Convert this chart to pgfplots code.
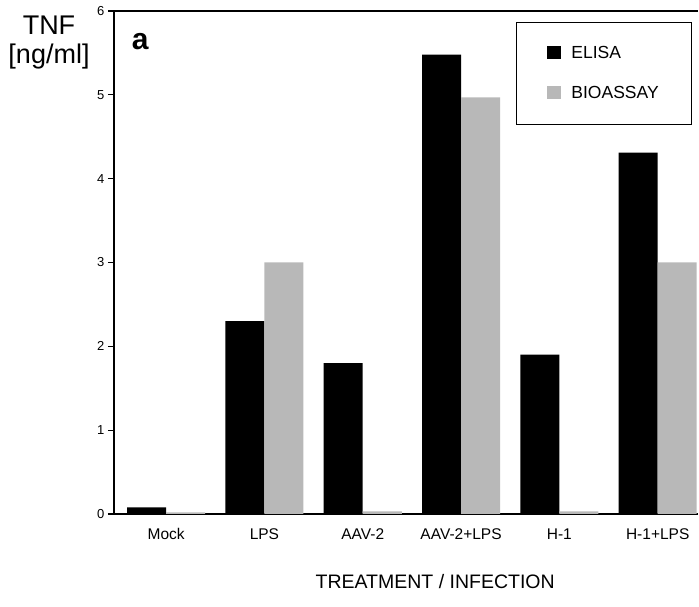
\documentclass[border=0pt]{standalone}
\usepackage{fontspec}
\setmainfont{Liberation Sans}
\usepackage{pgfplots}
\pgfplotsset{compat=1.18}
\definecolor{dotgray}{gray}{0.72}
\begin{document}
\begin{tikzpicture}[x=1pt,y=1pt]
\useasboundingbox (-114,-93) rectangle (585,514);
\begin{axis}[
    at={(0,0)}, anchor=south west,
    scale only axis, width=584pt, height=503pt,
    xmin=-0.53, xmax=5.41, ymin=0, ymax=6,
    axis x line*=bottom, axis y line*=left,
    axis line style={line width=1.6pt},
    ybar, bar width=0.397,
    legend image code/.code={\path[#1,draw=none] (0pt,-6pt) rectangle (14pt,7pt);},
    xtick={0,1,2,3,4,5},
    xticklabels={Mock, LPS, AAV-2, AAV-2+LPS, H-1, H-1+LPS},
    x tick style={draw=none},
    xticklabel style={font=\fontsize{15.5}{18}\selectfont, yshift=-5pt},
    ytick={0,1,2,3,4,5,6},
    tick align=outside, major tick length=6pt,
    y tick style={line width=1.2pt, black},
    yticklabel style={font=\fontsize{13}{15}\selectfont},
    /pgf/number format/assume math mode=true,
    xlabel={TREATMENT / INFECTION},
    xlabel style={font=\fontsize{19.5}{22}\selectfont, at={(rel axis cs:0.55,0)}, anchor=center, yshift=-68pt},
    ylabel={TNF\\\relax[ng/ml]},
    ylabel style={rotate=-90, align=center, font=\fontsize{27}{29}\selectfont, at={(rel axis cs:0,1)}, anchor=center, xshift=-65pt, yshift=-32pt},
    legend style={at={(rel axis cs:0.99,0.978)}, anchor=north east, draw=black, line width=1pt,
        font=\fontsize{17.5}{20}\selectfont, inner xsep=31pt, inner ysep=22pt, row sep=22pt,
        /tikz/every odd column/.append style={column sep=8pt}},
    legend cell align=left,
]
\addplot[fill=black, draw=none, bar shift=-0.1985] coordinates {(0,0.08) (1,2.3) (2,1.8) (3,5.48) (4,1.9) (5,4.31)};
\addplot[fill=dotgray, draw=none, bar shift=0.1985] coordinates {(0,0.02) (1,3.0) (2,0.03) (3,4.97) (4,0.03) (5,3.0)};
\legend{ELISA, BIOASSAY}
\draw[line width=1.6pt] (rel axis cs:0,1) -- (rel axis cs:1,1);
\node[font=\bfseries\fontsize{30}{30}\selectfont] at (rel axis cs:0.045,0.94) {a};
\end{axis}
\end{tikzpicture}
\end{document}
